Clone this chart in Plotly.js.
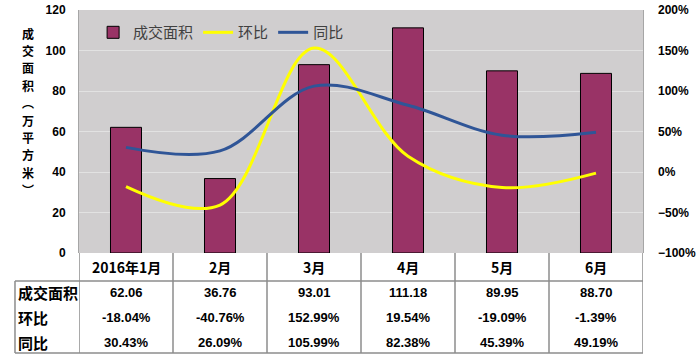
<!DOCTYPE html>
<html><head><meta charset="utf-8">
<script src="https://cdn.plot.ly/plotly-3.0.1.min.js"></script>
<style>body{margin:0;padding:0;background:#fff}#c{width:700px;height:358px}</style>
</head><body><div id="c"></div>
<script>
const categories = ['2016年1月','2月','3月','4月','5月','6月'];
const area = [62.06, 36.76, 93.01, 111.18, 89.95, 88.70];
const mom = [-18.04, -40.76, 152.99, 19.54, -19.09, -1.39];
const yoy = [30.43, 26.09, 105.99, 82.38, 45.39, 49.19];
const rowLabels = ['成交面积','环比','同比'];
const seriesNames = ['成交面积','环比','同比'];
const yTitle = '成交面积︵万平方米︶';

const idx = categories.map((_, i) => i);
const FONT = 'Liberation Sans, Arial, sans-serif';
const CJK = 'Noto Sans CJK SC, sans-serif';

const traces = [
  {type:'bar', x:idx, y:area, name:seriesNames[0], width:0.33,
   marker:{color:'#993366', line:{color:'#000', width:1}}},
  {type:'scatter', mode:'lines', x:idx, y:mom, name:seriesNames[1], yaxis:'y2',
   line:{color:'#FFFF00', width:3, shape:'spline', smoothing:1}},
  {type:'scatter', mode:'lines', x:idx, y:yoy, name:seriesNames[2], yaxis:'y2',
   line:{color:'#2F5597', width:3, shape:'spline', smoothing:1}}
];

const ann = [];
const shapes = [];
const rowY = [-0.1646, -0.2634, -0.3663];
const fmtRows = [area.map(v => v.toFixed(2)), mom.map(v => v.toFixed(2) + '%'), yoy.map(v => v.toFixed(2) + '%')];
categories.forEach((c, i) => {
  ann.push({x:i, y:-0.0576, xref:'x', yref:'paper', text:c, showarrow:false,
    font:{family:CJK, size:14, color:'#000', weight:'bold'}, xanchor:'center', yanchor:'middle'});
  fmtRows.forEach((r, k) => {
    ann.push({x:i, y:rowY[k], xref:'x', yref:'paper', text:r[i], showarrow:false,
      font:{family:FONT, size:13, color:'#000', weight:'bold'}, xanchor:'center', yanchor:'middle'});
  });
});
rowLabels.forEach((t, k) => {
  ann.push({x:-0.112, y:rowY[k], xref:'paper', yref:'paper', text:t, showarrow:false,
    font:{family:CJK, size:15, color:'#000', weight:'bold'}, xanchor:'left', yanchor:'middle'});
});
// vertical stacked axis title, one character per line
yTitle.split('').forEach((ch, i) => {
  const py = 33 + i * 17.4;
  ann.push({x:-0.091, y:(253 - py) / 243, xref:'paper', yref:'paper', showarrow:false,
    text:ch, font:{family:CJK, size:12, color:'#000', weight:'bold'},
    xanchor:'center', yanchor:'middle'});
});

const lc = '#8c8c8c';
for (let i = 0; i <= categories.length; i++) {
  shapes.push({type:'line', xref:'x', yref:'paper', x0:i-0.5, x1:i-0.5, y0:0, y1:-0.4115,
    line:{color:lc, width:1.5}});
}
shapes.push({type:'line', xref:'paper', yref:'paper', x0:-0.1135, x1:-0.1135, y0:-0.1152, y1:-0.4115, line:{color:lc, width:1.5}});
shapes.push({type:'line', xref:'paper', yref:'paper', x0:-0.1135, x1:1, y0:-0.1152, y1:-0.1152, line:{color:lc, width:1.5}});
shapes.push({type:'line', xref:'paper', yref:'paper', x0:-0.1135, x1:1, y0:-0.4115, y1:-0.4115, line:{color:lc, width:1.5}});

const layout = {
  width:700, height:358,
  margin:{l:79, r:57, t:10, b:105},
  paper_bgcolor:'#fff', plot_bgcolor:'#d0cecf',
  showlegend:true,
  legend:{orientation:'h', x:0.025, y:0.975, xanchor:'left', yanchor:'top',
    bgcolor:'rgba(0,0,0,0)', font:{family:CJK, size:15, color:'#404040'}, traceorder:'normal'},
  xaxis:{range:[-0.5, 5.5], showticklabels:false, showgrid:false, zeroline:false, ticks:'', fixedrange:true},
  yaxis:{range:[0,120], dtick:20, tick0:0, showgrid:true, gridcolor:'#e2e2e2', zeroline:false,
    showline:true, linecolor:'#a6a6a6', mirror:true, ticks:'', ticklabelstandoff:10,
    tickfont:{family:FONT, size:12, color:'#000', weight:'bold'}},
  yaxis2:{range:[-100,200], dtick:50, tick0:-100, overlaying:'y', side:'right', showgrid:false,
    zeroline:false, ticks:'', ticksuffix:'%', ticklabelstandoff:14,
    tickfont:{family:FONT, size:12, color:'#000', weight:'bold'}},
  annotations:ann, shapes:shapes
};
Plotly.newPlot('c', traces, layout, {displayModeBar:false, staticPlot:true});
</script></body></html>
